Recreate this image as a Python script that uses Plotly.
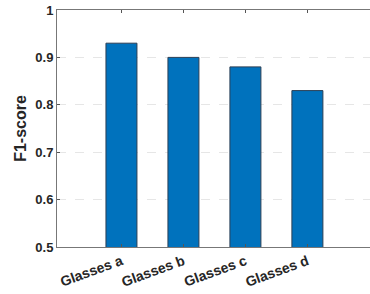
import plotly.graph_objects as go

categories = ["Glasses a", "Glasses b", "Glasses c", "Glasses d"]
positions = [1, 2, 3, 4]
f1_scores = [0.93, 0.90, 0.88, 0.83]
y_ticks = [0.5, 0.6, 0.7, 0.8, 0.9, 1.0]
y_ticktext = ["0.5", "0.6", "0.7", "0.8", "0.9", "1"]

font_family = "Arial, Liberation Sans, sans-serif"

fig = go.Figure(go.Bar(
    x=positions, y=f1_scores, width=0.5,
    marker=dict(color="#0072BD", line=dict(color="#2b3f55", width=1)),
))

fig.update_layout(
    width=370, height=294,
    margin=dict(l=57, r=0, t=10, b=47, autoexpand=False),
    paper_bgcolor="white", plot_bgcolor="white",
    showlegend=False,
    font=dict(family=font_family, color="#262626"),
)
fig.update_xaxes(
    range=[-0.04, 5.01], tickvals=positions, ticktext=categories,
    tickangle=-20, tickfont=dict(size=14, family=font_family, color="#262626", weight="bold"),
    ticks="inside", ticklen=3, tickcolor="#555555",
    showline=True, linecolor="#777777", linewidth=1, mirror="ticks",
    showgrid=False, zeroline=False, automargin=False,
)
fig.update_yaxes(
    range=[0.5, 1.0], tickvals=y_ticks, ticktext=y_ticktext,
    tickfont=dict(size=13, family=font_family, color="#262626", weight="bold"),
    ticks="inside", ticklen=3, tickcolor="#555555",
    showline=True, linecolor="#777777", linewidth=1, mirror=False,
    showgrid=True, gridcolor="#e6e6e6", griddash="dash", gridwidth=1,
    zeroline=False, automargin=False,
    title=dict(text="F1-score", font=dict(size=16, family=font_family, color="#262626", weight="bold"), standoff=4),
)

fig.write_html(
    "out.html",
    config={"displayModeBar": False},
    post_script="document.body.style.margin='0';document.body.style.padding='0';document.body.style.overflow='hidden';",
)
